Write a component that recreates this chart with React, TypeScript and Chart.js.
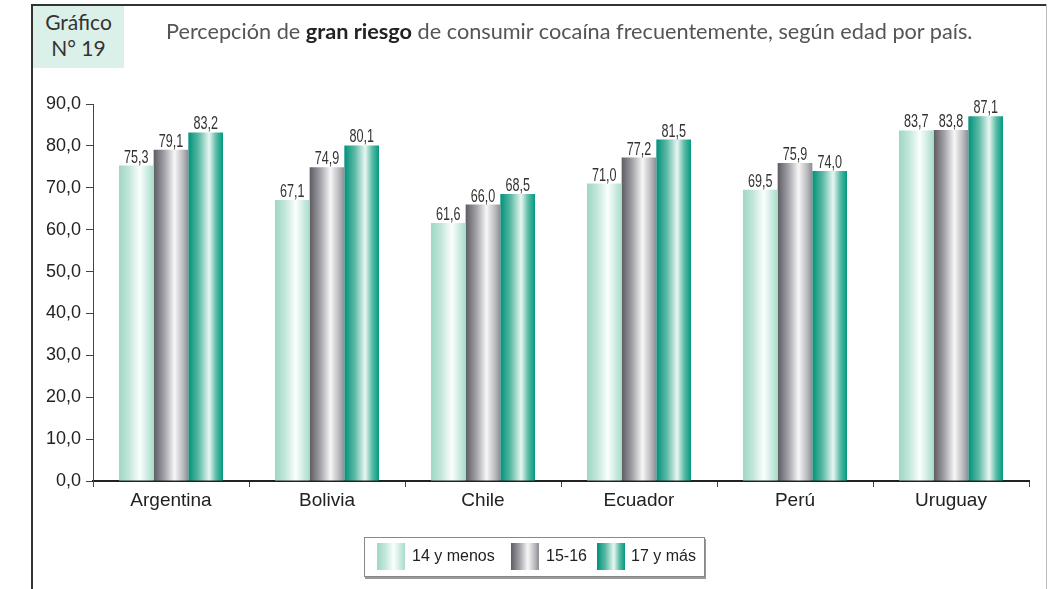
import React, { useEffect, useRef } from "react";
import { Chart, registerables } from "chart.js";

Chart.register(...registerables);

const categories = ["Argentina", "Bolivia", "Chile", "Ecuador", "Perú", "Uruguay"];
const seriesNames = ["14 y menos", "15-16", "17 y más"];
const values14 = [75.3, 67.1, 61.6, 71.0, 69.5, 83.7];
const values1516 = [79.1, 74.9, 66.0, 77.2, 75.9, 83.8];
const values17 = [83.2, 80.1, 68.5, 81.5, 74.0, 87.1];
const yMin = 0;
const yMax = 90;
const yStep = 10;

const CAT_PCT = 0.667;

const gradStops: [number, string][][] = [
  [[0, "#9fd7c3"], [0.3, "#c4e8db"], [0.6, "#fbfefd"], [0.85, "#c7e9dc"], [1, "#a8dcc9"]],
  [[0, "#5c5c62"], [0.3, "#a0a0a6"], [0.6, "#f7f7f8"], [0.85, "#b9b9be"], [1, "#8c8c92"]],
  [[0, "#00917a"], [0.3, "#5cb9a5"], [0.6, "#e9f6f2"], [0.8, "#5dbca7"], [1, "#009a7f"]],
];

function cssGradient(stops: [number, string][]) {
  return "linear-gradient(to right, " + stops.map(([p, c]) => `${c} ${p * 100}%`).join(", ") + ")";
}

function makeBg(dsIndex: number) {
  return (ctx: any) => {
    const stops = gradStops[dsIndex];
    const chart = ctx.chart;
    const xs = chart.scales && chart.scales.x;
    if (!xs || ctx.dataIndex === undefined || !xs.width) return stops[0][1];
    const catW = xs.width / categories.length;
    const center = xs.getPixelForValue(ctx.dataIndex);
    const barW = (catW * CAT_PCT) / 3;
    const left = center - 1.5 * barW + dsIndex * barW;
    const g = chart.ctx.createLinearGradient(left, 0, left + barW, 0);
    stops.forEach(([p, c]) => g.addColorStop(p, c));
    return g;
  };
}

const fmt = (v: number) => v.toFixed(1).replace(".", ",");

const labelPlugin = {
  id: "valueLabels",
  afterDatasetsDraw(chart: any) {
    const c = chart.ctx;
    chart.data.datasets.forEach((ds: any, di: number) => {
      const meta = chart.getDatasetMeta(di);
      meta.data.forEach((el: any, i: number) => {
        c.save();
        c.font = "18px 'Liberation Sans', Arial, sans-serif";
        c.fillStyle = "#333";
        c.textAlign = "center";
        c.textBaseline = "alphabetic";
        c.translate(el.x, el.y - 3);
        c.scale(0.7, 1);
        c.fillText(fmt(ds.data[i]), 0, 0);
        c.restore();
      });
    });
  },
};

export default function App() {
  const ref = useRef<HTMLCanvasElement>(null);

  useEffect(() => {
    document.body.style.margin = "0";
    Chart.defaults.font.family = "'Liberation Sans', Arial, sans-serif";
    Chart.defaults.font.size = 18;
    const chart = new Chart(ref.current!, {
      type: "bar",
      data: {
        labels: categories,
        datasets: [values14, values1516, values17].map((d, i) => ({
          label: seriesNames[i],
          data: d,
          backgroundColor: makeBg(i),
          borderWidth: 0,
          categoryPercentage: CAT_PCT,
          barPercentage: 1,
        })),
      },
      options: {
        animation: false,
        responsive: false,
        devicePixelRatio: 1,
        layout: { padding: { top: 104, right: 20, bottom: 0, left: 0 } },
        plugins: { legend: { display: false }, tooltip: { enabled: false }, title: { display: false } },
        scales: {
          x: {
            afterFit: (s: any) => { s.height = 108; },
            grid: { drawOnChartArea: false, drawTicks: true, tickLength: 6, color: "#444", offset: true },
            border: { display: true, color: "#222", width: 2 },
            ticks: { color: "#222", font: { size: 19 }, padding: 2 },
          },
          y: {
            min: yMin,
            max: yMax,
            afterFit: (s: any) => { s.width = 93; },
            grid: { drawOnChartArea: false, drawTicks: true, tickLength: 7, color: "#444" },
            border: { display: true, color: "#444", width: 1 },
            ticks: {
              stepSize: yStep,
              color: "#222",
              font: { size: 18 },
              padding: 5,
              callback: (v: any) => fmt(Number(v)),
            },
          },
        },
      },
      plugins: [labelPlugin],
    });
    return () => chart.destroy();
  }, []);

  const swatchX = [377, 511, 597];
  const textX = [412, 546, 631];

  return (
    <div style={{ position: "absolute", left: 0, top: 0, width: 1049, height: 589, background: "#fff", overflow: "hidden" }}>
      <canvas ref={ref} width={1049} height={589} style={{ position: "absolute", left: 0, top: 0 }} />
      <div style={{ position: "absolute", left: 31, top: 4, width: 2, height: 585, background: "#333" }} />
      <div style={{ position: "absolute", left: 31, top: 4, width: 1016, height: 2, background: "#333" }} />
      <div style={{ position: "absolute", left: 1046, top: 4, width: 1, height: 585, background: "#bbb" }} />
      <div
        style={{
          position: "absolute", left: 33, top: 6, width: 91, height: 62, background: "#dcf0ea",
          fontFamily: "Lato, 'Open Sans', sans-serif", fontSize: 21, color: "#333", textAlign: "center", lineHeight: "26px",
          paddingTop: 3, boxSizing: "border-box",
        }}
      >
        Gráfico<br />N° 19
      </div>
      <div
        style={{
          position: "absolute", left: 166, top: 18, fontFamily: "Lato, 'Open Sans', sans-serif", fontSize: 21.7,
          color: "#555", whiteSpace: "nowrap",
        }}
      >
        Percepción de <b style={{ color: "#222" }}>gran riesgo</b> de consumir cocaína frecuentemente, según edad por país.
      </div>
      <div
        style={{
          position: "absolute", left: 364, top: 537, width: 341, height: 40, boxSizing: "border-box",
          border: "1px solid #888", boxShadow: "1px 2px 0 #999",
        }}
      />
      {[0, 1, 2].map((i) => (
        <React.Fragment key={i}>
          <div style={{ position: "absolute", left: swatchX[i], top: 543, width: 28, height: 27, background: cssGradient(gradStops[i]) }} />
          <div
            style={{
              position: "absolute", left: textX[i], top: 546, fontFamily: "'Liberation Sans', Arial, sans-serif",
              fontSize: 16, lineHeight: "20px", color: "#222", whiteSpace: "nowrap",
            }}
          >
            {seriesNames[i]}
          </div>
        </React.Fragment>
      ))}
    </div>
  );
}
